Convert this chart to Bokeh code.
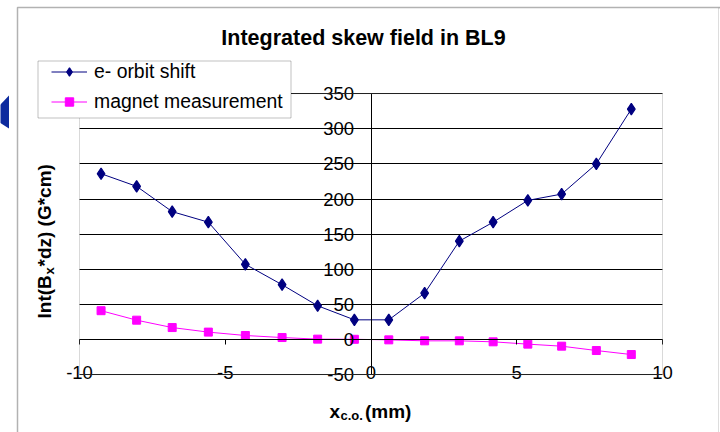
import math
from bokeh.plotting import figure
from bokeh.models import (Range1d, FixedTicker, Legend, LegendItem, Label,
                          BoxAnnotation, PolyAnnotation)
from bokeh.embed import file_html
from bokeh.resources import INLINE

# ---- data ----
x_pos = [-9.26, -8.04, -6.82, -5.58, -4.31, -3.05, -1.83, -0.57,
         0.61, 1.84, 3.03, 4.19, 5.38, 6.54, 7.73, 8.93]
orbit_shift = [236, 218, 182, 167, 107, 78, 48, 28,
               28, 66, 140, 167, 198, 207, 250, 328]
magnet_meas = [41, 27.5, 17, 10.5, 5.7, 2.8, 0.5, 0.3,
               -0.5, -1.9, -1.9, -3.3, -6.6, -9.5, -15.7, -21.4]
x_ticks = [-10, -5, 0, 5, 10]
y_ticks = [-50, 0, 50, 100, 150, 200, 250, 300, 350]
x_bounds = (-10, 10)
y_bounds = (-50, 350)
series_names = ["e- orbit shift", "magnet measurement"]
title_text = "Integrated skew field in BL9"

FONT = "Liberation Sans"
NAVY = "#000080"
MAGENTA = "#FF00FF"
W, H = 720, 432

# plot area on the page: x -10..10 -> 79..662 px, y 350..-50 -> 93..374 px
X0, XS = 370.5, 583 / 20.0
Y0, YS = 339.0, 281 / 400.0
def dx(px):
    return (px - X0) / XS
def dy(py):
    return (Y0 - py) / YS

p = figure(width=W, height=H, output_backend="svg", toolbar_location=None,
           x_range=Range1d(dx(0), dx(W)), y_range=Range1d(dy(H), dy(0)),
           min_border_left=0, min_border_right=0, min_border_top=0,
           min_border_bottom=0, title=None)
p.background_fill_color = "white"
p.border_fill_color = "white"
p.outline_line_color = None

# grid
p.xgrid.visible = False
p.ygrid.grid_line_color = "black"
p.ygrid.grid_line_width = 1
p.ygrid.ticker = FixedTicker(ticks=y_ticks)
p.ygrid.cross_bounds = x_bounds

# axes crossing at zero
xa = p.xaxis[0]
xa.fixed_location = 0
xa.bounds = x_bounds
xa.ticker = FixedTicker(ticks=x_ticks)
xa.major_label_overrides = {t: str(t) for t in x_ticks}
xa.axis_line_color = "black"
xa.major_tick_line_color = "black"
xa.major_tick_out = 5
xa.major_tick_in = 0
xa.minor_tick_line_color = None
xa.major_label_standoff = 21
xa.major_label_text_font = FONT
xa.major_label_text_font_size = "18.5px"
xa.major_label_text_color = "black"

ya = p.yaxis[0]
ya.fixed_location = 0
ya.bounds = y_bounds
ya.ticker = FixedTicker(ticks=y_ticks)
ya.major_label_overrides = {t: str(t) for t in y_ticks}
ya.axis_line_color = "black"
ya.major_tick_line_color = "black"
ya.major_tick_out = 6
ya.major_tick_in = 0
ya.minor_tick_line_color = None
ya.major_label_standoff = 11
ya.major_label_text_font = FONT
ya.major_label_text_font_size = "18.5px"
ya.major_label_text_color = "black"

# series
l1 = p.line(x_pos, orbit_shift, line_color=NAVY, line_width=1)
s1 = p.scatter(x_pos, orbit_shift, marker="diamond", size=11.5,
               fill_color=NAVY, line_color=NAVY, line_width=1.2)
l2 = p.line(x_pos, magnet_meas, line_color=MAGENTA, line_width=1)
s2 = p.scatter(x_pos, magnet_meas, marker="square", size=8,
               fill_color=MAGENTA, line_color=MAGENTA)

# plot-area outline
p.add_layout(BoxAnnotation(left=x_bounds[0], right=x_bounds[1],
                           bottom=y_bounds[0], top=y_bounds[1],
                           fill_alpha=0, line_color="#808080", line_width=1))

# outer chart border
p.add_layout(BoxAnnotation(left=dx(17), right=dx(900), top=dy(7), bottom=dy(600),
                           fill_alpha=0, line_color="black", line_width=1.5))
p.add_layout(BoxAnnotation(left=dx(718), right=dx(900), top=dy(7.5), bottom=dy(600),
                           fill_alpha=0, line_color="#909090", line_width=1))

# decorative wedge at the left edge
p.add_layout(PolyAnnotation(xs=[dx(8.5), dx(8.5), dx(-1), dx(-1)],
                            ys=[dy(95), dy(128), dy(122), dy(105)],
                            fill_color="#0D2A9E", fill_alpha=1, line_alpha=0))

# legend box
p.add_layout(BoxAnnotation(left=dx(37.5), right=dx(290.5), top=dy(60.5), bottom=dy(117.5),
                           fill_color="white", fill_alpha=1,
                           line_color="#303030", line_width=1))
legend = Legend(items=[LegendItem(label=series_names[0], renderers=[l1, s1]),
                       LegendItem(label=series_names[1], renderers=[l2, s2])],
                location=(46, H - 117.5), padding=5, spacing=7,
                glyph_width=36, glyph_height=21, label_height=21,
                label_standoff=7, margin=0,
                border_line_alpha=0, background_fill_alpha=0,
                label_text_font=FONT, label_text_font_size="19.4px",
                label_text_color="black")
p.add_layout(legend, "center")

bold = dict(text_font=FONT, text_font_style="bold", text_color="black",
            text_baseline="middle")

# title
p.add_layout(Label(x=dx(363), y=dy(37), text=title_text, text_align="center",
                   text_font_size="21.5px", **bold))

# x axis title: x_{c.o.}(mm)
p.add_layout(Label(x=dx(329), y=dy(411), text="x", text_align="left",
                   text_font_size="19px", **bold))
p.add_layout(Label(x=dx(340), y=dy(414.5), text="c.o.", text_align="left",
                   text_font_size="13px", **bold))
p.add_layout(Label(x=dx(364.5), y=dy(411), text="(mm)", text_align="left",
                   text_font_size="19px", **bold))

# y axis title: Int(B_x*dz) (G*cm)
p.add_layout(Label(x=dx(44), y=dy(318), text="Int(B", angle=math.pi / 2,
                   text_align="left", text_font_size="19px", **bold))
p.add_layout(Label(x=dx(48.5), y=dy(274), text="x", angle=math.pi / 2,
                   text_align="left", text_font_size="13px", **bold))
p.add_layout(Label(x=dx(44), y=dy(266), text="*dz) (G*cm)", angle=math.pi / 2,
                   text_align="left", text_font_size="19px", **bold))

open("out.html", "w").write(file_html(p, INLINE))
